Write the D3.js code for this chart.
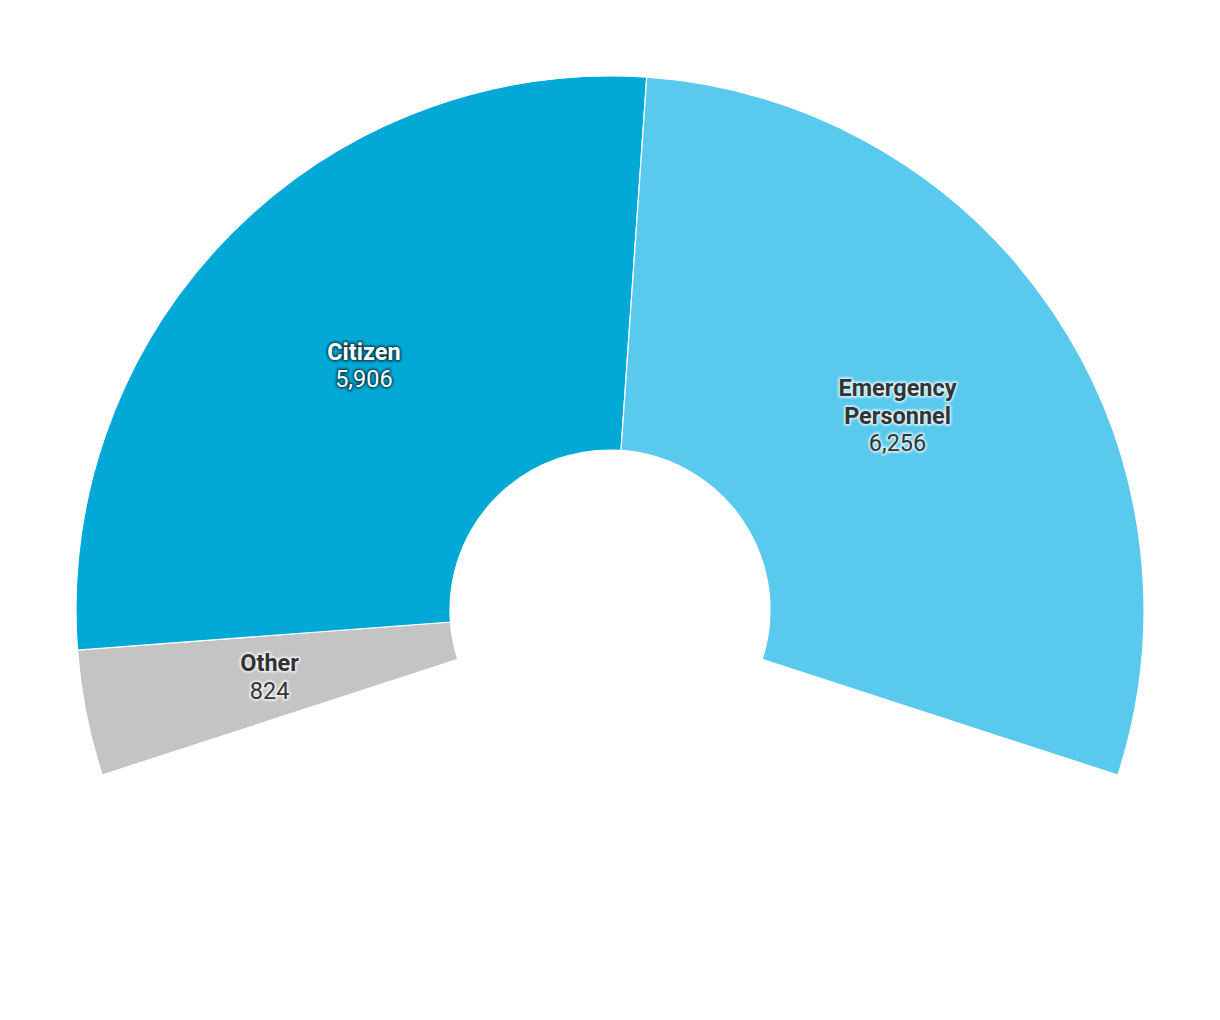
<!DOCTYPE html>
<html><head><meta charset="utf-8">
<script src="https://cdn.jsdelivr.net/npm/d3@7"></script>
<style>body{margin:0;background:#fff}svg{display:block}</style>
</head><body>
<svg id="chart" width="1220" height="1020"></svg>
<script>
const categories = ["Other", "Citizen", "Emergency Personnel"];
const values = [824, 5906, 6256];
const valueLabels = ["824", "5,906", "6,256"];
const colors = ["#c4c4c4", "#02a9d6", "#59c9ee"];
const labelLines = [["Other"], ["Citizen"], ["Emergency", "Personnel"]];
const textColors = ["#333333", "#ffffff", "#333333"];
const haloColors = ["rgba(255,255,255,0.8)", "rgba(0,0,0,0.6)", "rgba(255,255,255,0.8)"];

const svg = d3.select("#chart");
const cx = 610, cy = 610, rOuter = 534, rInner = 160;
const deg = Math.PI / 180;
const data = categories.map((c, i) => ({ c, v: values[i], i }));
const pie = d3.pie().value(d => d.v).sort(null).startAngle(-108 * deg).endAngle(108 * deg);
const arc = d3.arc().innerRadius(rInner).outerRadius(rOuter);
const g = svg.append("g").attr("transform", `translate(${cx},${cy})`);
const arcs = pie(data);
g.selectAll("path").data(arcs).join("path")
  .attr("d", arc).attr("fill", d => colors[d.data.i])
  .attr("stroke", "#fff").attr("stroke-width", 1.2);

const lineH = 27.5;
arcs.forEach(a => {
  const [x, y] = arc.centroid(a);
  const i = a.data.i;
  const lines = labelLines[i].map(t => ({ t, bold: true })).concat([{ t: valueLabels[i], bold: false }]);
  const n = lines.length;
  const y0 = y - (n - 1) * lineH / 2;
  lines.forEach((l, k) => {
    const attrs = sel => sel.attr("x", x).attr("y", y0 + k * lineH)
      .attr("text-anchor", "middle").attr("dominant-baseline", "central")
      .attr("font-family", "Roboto, sans-serif").attr("font-size", 23.5)
      .attr("font-weight", l.bold ? 700 : 400).text(l.t);
    g.append("text").call(attrs).attr("fill", "none")
      .attr("stroke", haloColors[i]).attr("stroke-width", 3).attr("stroke-linejoin", "round")
      .style("filter", "blur(1px)");
    g.append("text").call(attrs).attr("fill", textColors[i]);
  });
});
</script>
</body></html>
